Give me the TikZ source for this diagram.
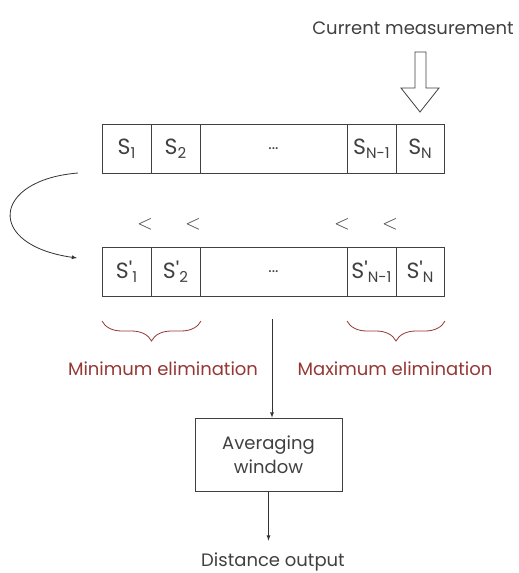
\documentclass[tikz,border=0pt]{standalone}
\usepackage{fontspec}
\setmainfont{Poppins}
\usetikzlibrary{arrows,calc,decorations.pathreplacing}
\definecolor{txtgray}{HTML}{404040}
\definecolor{elimred}{HTML}{953735}
\tikzset{
  cell/.style={draw=black!75, line width=0.8pt, minimum height=49pt, inner sep=0pt, text=txtgray,
    font=\fontsize{22}{24}\selectfont},
  lbl/.style={text=txtgray, inner sep=0pt},
  redlbl/.style={text=elimred, inner sep=0pt},
  brc/.style={draw=elimred, line width=0.8pt, decorate, decoration={brace, amplitude=20pt}},
  conn/.style={draw=black!80, line width=0.8pt, -latex},
}
\newcommand{\cellsub}[1]{\raisebox{-0.35ex}{\fontsize{15}{15}\selectfont #1}}

\begin{document}
\begin{tikzpicture}[x=1pt,y=-1pt,font=\fontsize{18}{21}\selectfont]
\useasboundingbox (0,0) rectangle (519,573);
% input
\node [lbl] (meas) at (413,28) {Current measurement};
\draw [black!75, line width=0.8pt, fill=white] (415,52) -- (426,52) -- (426,88) -- (439,88)
  -- (420,112) -- (401,88) -- (415,88) -- cycle;
% buffer before sorting
\node [cell, minimum width=49pt] (s1) at (126.5,148.5) {S\cellsub{1}};
\node [cell, minimum width=49pt] (s2) at (175.5,148.5) {S\cellsub{2}};
\node [cell, minimum width=147pt] (sd) at (273.5,148.5) {\fontsize{16}{16}\selectfont ...};
\node [cell, minimum width=49pt] (sn1) at (371.5,148.5) {S\cellsub{N-1}};
\node [cell, minimum width=48pt] (sn) at (420,148.5) {S\cellsub{N}};
% sorted buffer
\node [cell, minimum width=49pt] (t1) at (126.5,271.5) {S\textquotesingle\cellsub{1}};
\node [cell, minimum width=49pt] (t2) at (175.5,271.5) {S\textquotesingle\cellsub{2}};
\node [cell, minimum width=147pt] (td) at (273.5,271.5) {\fontsize{16}{16}\selectfont ...};
\node [cell, minimum width=49pt] (tn1) at (371.5,271.5) {S\textquotesingle\cellsub{N-1}};
\node [cell, minimum width=48pt] (tn) at (420,271.5) {S\textquotesingle\cellsub{N}};
\node [lbl, font=\fontsize{20}{20}\selectfont] (lt1) at (145,224) {$<$};
\node [lbl, font=\fontsize{20}{20}\selectfont] (lt2) at (193,224) {$<$};
\node [lbl, font=\fontsize{20}{20}\selectfont] (lt3) at (342,224) {$<$};
\node [lbl, font=\fontsize{20}{20}\selectfont] (lt4) at (390,224) {$<$};
% sorting
\coordinate (sortin) at (78,173);
\coordinate (sortout) at (77,258);
\draw [conn] (sortin) .. controls (-8,180) and (-15,245) .. (sortout);
% elimination
\draw [brc] (201,321) -- (102,321);
\draw [brc] (445,321) -- (347,321);
\node [redlbl] (minel) at (163,369) {Minimum elimination};
\node [redlbl] (maxel) at (395,369) {Maximum elimination};
% averaging
\node [draw=black!75, line width=0.8pt, minimum width=147pt, minimum height=73pt, align=center,
  text=txtgray, font=\fontsize{18}{24}\selectfont] (avg) at (268.5,454.5) {Averaging\\window};
\node [lbl] (out) at (273,562) {Distance output};
\coordinate (split) at (272,319);
\draw [conn] (split) -- (split |- avg.north);
\draw [conn, shorten >=12pt] (avg.south) -- (avg.south |- out.north);
\end{tikzpicture}
\end{document}
